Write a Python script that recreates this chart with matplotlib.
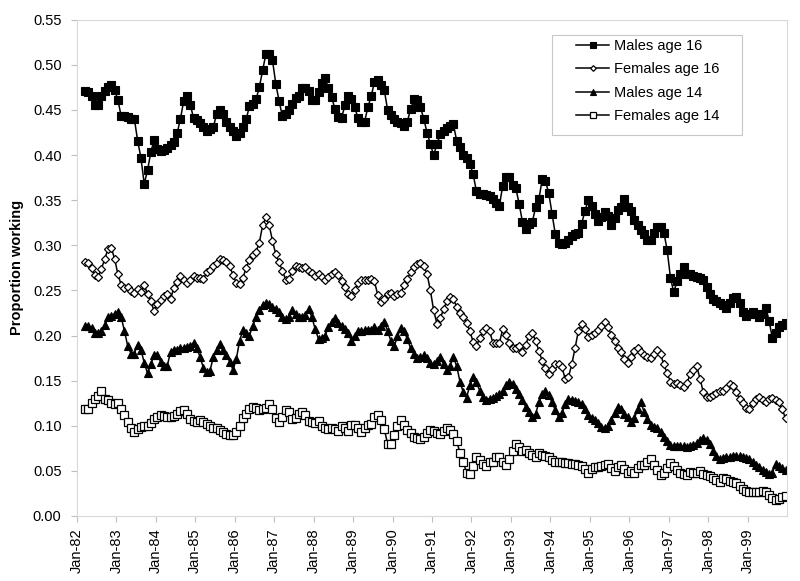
import matplotlib
matplotlib.use("Agg")
import matplotlib.pyplot as plt
from matplotlib.patches import Rectangle
import numpy as np

plt.rcParams['font.family'] = ['Liberation Sans', 'DejaVu Sans']

# Month index: 0 = Jan-82 ... 215 = Dec-99 ; data begin Mar-82 (index 2)
start_month = 2

males16 = [
    .471, .470, .466, .456, .456, .465, .471, .475, .478, .472,
    .461, .443, .443, .442, .440, .440, .416, .397, .368, .383, .403, .417,
    .407, .405, .406, .408, .411, .414, .424, .440, .460, .466, .456, .441,
    .439, .435, .431, .427, .429, .431, .445, .450, .445, .437, .431, .427,
    .421, .425, .431, .440, .454, .457, .462, .475, .494, .512, .512, .505,
    .479, .460, .443, .446, .450, .457, .463, .466, .474, .474, .471, .461,
    .461, .470, .480, .485, .474, .464, .451, .442, .441, .455, .465, .462,
    .453, .441, .437, .437, .453, .465, .481, .483, .478, .472, .450, .444,
    .440, .437, .435, .432, .437, .451, .462, .461, .453, .440, .425, .412,
    .400, .412, .423, .427, .430, .432, .434, .416, .409, .400, .397, .390,
    .379, .360, .357, .357, .356, .355, .351, .347, .344, .366, .376, .376,
    .367, .363, .346, .326, .318, .324, .326, .342, .351, .373, .371, .358,
    .335, .312, .303, .301, .303, .306, .310, .312, .314, .324, .338, .350,
    .343, .335, .327, .331, .337, .332, .323, .330, .339, .342, .351, .342,
    .338, .328, .322, .317, .312, .306, .306, .314, .320, .320, .314, .295,
    .264, .248, .260, .268, .276, .268, .268, .266, .265, .264, .261, .254,
    .246, .241, .238, .236, .234, .231, .236, .242, .243, .236, .226, .222,
    .224, .226, .224, .221, .224, .231, .216, .197, .203, .209, .212, .214,
]

females16 = [
    .2815, .280, .275, .267, .265, .274, .285, .296, .297, .285,
    .268, .256, .253, .254, .249, .247, .251, .248, .256, .246, .238, .227,
    .235, .239, .244, .246, .240, .253, .259, .266, .261, .258, .261, .266,
    .264, .264, .263, .270, .273, .277, .280, .285, .284, .281, .277, .267,
    .258, .257, .264, .275, .284, .289, .293, .303, .322, .331, .322, .305,
    .290, .281, .272, .262, .263, .272, .277, .276, .275, .276, .272, .269,
    .266, .268, .265, .262, .265, .268, .270, .267, .260, .254, .246, .244,
    .250, .258, .261, .262, .262, .263, .260, .245, .237, .240, .246, .247,
    .244, .246, .247, .256, .263, .270, .276, .279, .280, .277, .268, .250,
    .228, .213, .219, .229, .238, .243, .240, .232, .225, .220, .214, .205,
    .193, .188, .197, .205, .208, .205, .192, .192, .192, .207, .201, .192,
    .186, .186, .188, .182, .190, .200, .203, .194, .183, .172, .164, .157,
    .163, .168, .168, .165, .152, .154, .168, .186, .205, .213, .207, .198,
    .201, .203, .206, .210, .215, .209, .201, .194, .186, .182, .174, .169,
    .176, .183, .186, .182, .178, .176, .175, .180, .184, .179, .168, .158,
    .149, .146, .147, .145, .143, .147, .157, .162, .166, .152, .137, .132,
    .132, .134, .136, .138, .139, .142, .146, .144, .137, .130, .125, .120,
    .119, .125, .130, .132, .128, .126, .130, .131, .128, .126, .118, .108,
]

males14 = [
    .210, .210, .208, .203, .203, .205, .212, .220, .222, .224,
    .226, .220, .205, .188, .180, .180, .190, .184, .170, .158, .168, .178,
    .178, .171, .166, .166, .182, .184, .184, .186, .186, .187, .188, .192,
    .186, .176, .164, .159, .161, .176, .184, .191, .184, .178, .171, .162,
    .174, .194, .206, .203, .200, .211, .220, .228, .234, .236, .235, .232,
    .229, .226, .220, .218, .221, .228, .224, .220, .220, .223, .229, .220,
    .207, .196, .197, .200, .209, .215, .219, .214, .211, .207, .203, .194,
    .200, .205, .205, .206, .206, .206, .209, .206, .211, .215, .205, .194,
    .188, .199, .208, .205, .196, .186, .180, .175, .176, .178, .175, .169,
    .168, .172, .176, .168, .162, .166, .176, .166, .149, .137, .131, .145,
    .154, .148, .139, .132, .129, .130, .131, .133, .135, .139, .145, .148,
    .146, .141, .135, .128, .121, .115, .110, .113, .126, .135, .138, .134,
    .126, .117, .110, .114, .124, .130, .129, .127, .126, .124, .118, .112,
    .109, .106, .103, .099, .097, .100, .106, .114, .121, .118, .113, .110,
    .104, .108, .118, .126, .115, .107, .101, .099, .097, .093, .088, .083,
    .079, .077, .077, .077, .077, .076, .077, .079, .081, .084, .086, .084,
    .080, .072, .066, .063, .064, .065, .065, .066, .066, .066, .065, .064,
    .063, .060, .057, .054, .051, .049, .047, .048, .058, .055, .053, .051,
]

females14 = [
    .118, .119, .125, .130, .133, .138, .130, .128, .125, .124,
    .125, .119, .112, .104, .098, .093, .096, .099, .100, .100, .103, .107,
    .110, .112, .111, .110, .110, .111, .113, .116, .117, .113, .107, .105,
    .104, .106, .104, .102, .100, .098, .097, .095, .093, .091, .090, .090,
    .093, .100, .108, .113, .118, .121, .120, .117, .119, .120, .124, .118,
    .108, .104, .110, .117, .115, .107, .109, .113, .115, .112, .105, .104,
    .103, .105, .100, .097, .096, .098, .096, .094, .100, .097, .094, .101,
    .101, .097, .093, .097, .101, .102, .110, .112, .106, .096, .080, .080,
    .090, .100, .106, .101, .095, .092, .088, .086, .085, .088, .092, .095,
    .094, .092, .091, .094, .097, .095, .091, .083, .070, .060, .048, .046,
    .055, .065, .062, .058, .055, .060, .060, .065, .065, .060, .056, .063,
    .072, .080, .076, .072, .073, .070, .067, .065, .070, .068, .066, .065,
    .062, .060, .060, .060, .059, .059, .058, .058, .057, .055, .052, .048,
    .052, .054, .054, .055, .056, .058, .053, .050, .054, .056, .052, .048,
    .050, .048, .053, .057, .057, .060, .063, .057, .051, .045, .048, .053,
    .059, .055, .051, .048, .047, .045, .049, .048, .048, .050, .046, .045,
    .044, .042, .040, .038, .042, .041, .039, .038, .036, .033, .030, .028,
    .027, .027, .026, .026, .028, .026, .023, .020, .018, .019, .021, .022,
]

series_names = ["Males age 16", "Females age 16", "Males age 14", "Females age 14"]
tick_labels = ["Jan-%02d" % y for y in range(82, 100)]
y_ticks = [0.00, 0.05, 0.10, 0.15, 0.20, 0.25, 0.30, 0.35, 0.40, 0.45, 0.50, 0.55]

fig = plt.figure(figsize=(8.0, 5.81), dpi=100)
ax = fig.add_axes([0.096, 0.112, 0.888, 0.854])

n = len(males16)
x = np.arange(start_month, start_month + n) + 0.5

styles = [
    dict(marker='s', markersize=5.5, markerfacecolor='black', markeredgecolor='black', markeredgewidth=0.8),
    dict(marker='D', markersize=3.6, markerfacecolor='white', markeredgecolor='black', markeredgewidth=0.9),
    dict(marker='^', markersize=6.0, markerfacecolor='black', markeredgecolor='black', markeredgewidth=0.8),
    dict(marker='s', markersize=5.2, markerfacecolor='white', markeredgecolor='black', markeredgewidth=0.9),
]
handles = []
for vals, name, st in zip([males16, females16, males14, females14], series_names, styles):
    h, = ax.plot(x, vals, color='black', linewidth=1.1, label=name, **st)
    handles.append(h)

ax.set_xlim(0, 216)
ax.set_ylim(0, 0.55)
ax.set_xticks(np.arange(0, 216, 12))
ax.set_xticklabels(tick_labels, rotation=90, fontsize=10.5)
ax.set_yticks(y_ticks)
ax.set_yticklabels(["%.2f" % v for v in y_ticks], fontsize=10.5)
ax.tick_params(axis='both', colors='#bfbfbf', length=4, width=0.8, labelcolor='black', direction='out')
ax.tick_params(axis='y', pad=7)
ax.tick_params(axis='x', pad=5)
for s in ax.spines.values():
    s.set_color('#d9d9d9')
    s.set_linewidth(0.8)

ax.set_ylabel("Proportion working", fontsize=10.5, fontweight='bold', labelpad=6)

# legend box (drawn as a frame) and entries
ax.add_patch(Rectangle((0.669, 0.768), 0.2676, 0.202, transform=ax.transAxes,
                       facecolor='white', edgecolor='#c8c8c8', linewidth=0.8, zorder=4))
leg = ax.legend(handles=handles, loc='upper left', bbox_to_anchor=(0.703, 0.962), fontsize=10.5,
                frameon=False, handlelength=2.25, borderpad=0.0, borderaxespad=0.0,
                labelspacing=0.66, handletextpad=0.35, markerscale=0.8)
leg.set_zorder(5)

fig.savefig("out.png", dpi=100)
